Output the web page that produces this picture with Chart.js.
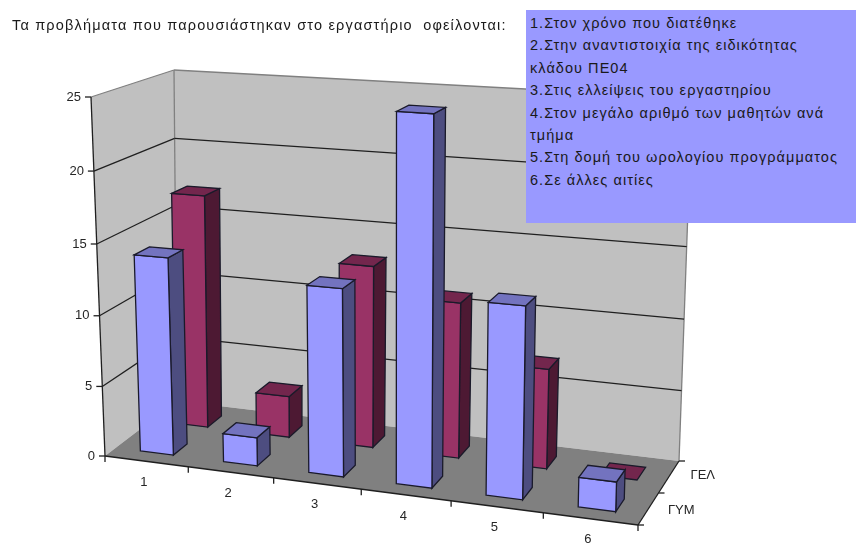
<!doctype html>
<html lang="el">
<head>
  <meta charset="utf-8" />
  <title>Προβλήματα εργαστηρίου</title>
  <style>
    body { margin: 0; background: #fff; }
    #wrap { position: relative; width: 856px; height: 545px; overflow: hidden; font-family: "Liberation Sans", Arial, sans-serif; color: #1a1a1a; }
    #myChart { position: absolute; left: 0; top: 0; }
    #title { position: absolute; left: 12px; top: 17px; font-size: 14.5px; letter-spacing: 1.17px; white-space: pre; }
    #box { position: absolute; left: 526px; top: 10px; width: 330px; height: 213px; background: #9999ff; }
    #box div { position: absolute; left: 4px; font-size: 14.5px; letter-spacing: 1.05px; white-space: pre; }
  </style>
</head>
<body>
<div id="wrap">
  <canvas id="myChart" width="856" height="545"></canvas>
  <div id="title"></div>
  <div id="box"></div>
</div>
<script src="https://cdn.jsdelivr.net/npm/chart.js@4/dist/chart.umd.min.js"></script>
<script>
const categories = ['1', '2', '3', '4', '5', '6'];
const gym = [14, 2, 13, 25, 13, 2];
const gel = [17, 3, 13, 11, 7, 0];
const seriesNames = ['ΓΥΜ', 'ΓΕΛ'];
const valueTicks = [0, 5, 10, 15, 20, 25];
const titleText = 'Τα προβλήματα που παρουσιάστηκαν στο εργαστήριο  οφείλονται:';
const noteLines = [
  '1.Στον χρόνο που διατέθηκε',
  '2.Στην αναντιστοιχία της ειδικότητας',
  'κλάδου ΠΕ04',
  '3.Στις ελλείψεις του εργαστηρίου',
  '4.Στον μεγάλο αριθμό των μαθητών ανά',
  'τμήμα',
  '5.Στη δομή του ωρολογίου προγράμματος',
  '6.Σε άλλες αιτίες'
];

document.getElementById('title').textContent = titleText;
const box = document.getElementById('box');
noteLines.forEach(function (line, i) {
  const d = document.createElement('div');
  d.textContent = line;
  d.style.top = (5 + i * 22.4) + 'px';
  box.appendChild(d);
});

// corners of the 3D plot box on the screen, [front, back] x [bottom, top] x [left, right]
const cube = {
  fbl: [105, 456], fbr: [638, 525], ftl: [91, 97], ftr: [649, 133],
  bbl: [177, 401], bbr: [679, 461], btl: [174, 70], btr: [692, 98]
};
const persp = 1.08;
const perspUp = 1.04;

function mix(a, b, t) { return [a[0] + (b[0] - a[0]) * t, a[1] + (b[1] - a[1]) * t]; }

// u along categories, v up, w into the picture, all 0..1
function project(u, v, w) {
  const uu = u / (persp - (persp - 1) * u);
  const vv = v / (perspUp - (perspUp - 1) * v);
  const front = mix(mix(cube.fbl, cube.fbr, uu), mix(cube.ftl, cube.ftr, uu), vv);
  const back = mix(mix(cube.bbl, cube.bbr, uu), mix(cube.btl, cube.btr, uu), vv);
  return mix(front, back, w);
}

function poly(ctx, pts, fill, stroke) {
  ctx.beginPath();
  pts.forEach(function (p, i) { if (i) ctx.lineTo(p[0], p[1]); else ctx.moveTo(p[0], p[1]); });
  ctx.closePath();
  if (fill) { ctx.fillStyle = fill; ctx.fill(); }
  if (stroke) { ctx.strokeStyle = stroke; ctx.stroke(); }
}

function line(ctx, a, b, color) {
  ctx.beginPath();
  ctx.moveTo(a[0], a[1]);
  ctx.lineTo(b[0], b[1]);
  ctx.strokeStyle = color;
  ctx.stroke();
}

const shades = [
  { front: '#9999ff', side: '#4d4d80', top: '#7373bf' },
  { front: '#993366', side: '#4d1933', top: '#73264d' }
];
const rows = [[0.15, 0.35], [0.65, 0.85]];

const box3d = {
  id: 'box3d',
  afterDatasetsDraw: function (chart) {
    const ctx = chart.ctx;
    const a = chart.chartArea;
    const ys = chart.scales.y;
    const nu = function (px) { return (px - a.left) / (a.right - a.left); };
    const nv = function (px) { return (a.bottom - px) / (a.bottom - a.top); };
    const wall = '#c0c0c0', edge = '#808080', dark = '#1f1f1f';

    ctx.save();
    ctx.lineWidth = 1.3;

    // walls and floor
    poly(ctx, [project(0, 0, 0), project(0, 1, 0), project(0, 1, 1), project(0, 0, 1)], wall);
    poly(ctx, [project(0, 0, 1), project(0, 1, 1), project(1, 1, 1), project(1, 0, 1)], wall);
    poly(ctx, [project(0, 0, 0), project(1, 0, 0), project(1, 0, 1), project(0, 0, 1)], edge);
    line(ctx, project(0, 1, 0), project(0, 1, 1), edge);
    line(ctx, project(0, 1, 1), project(1, 1, 1), edge);
    line(ctx, project(0, 1, 1), project(0, 0, 1), edge);
    line(ctx, project(1, 1, 1), project(1, 0, 1), edge);

    // gridlines and value axis
    ctx.font = '13px "Liberation Sans", Arial, sans-serif';
    ctx.fillStyle = '#262626';
    ys.ticks.forEach(function (t) {
      const v = nv(ys.getPixelForValue(t.value));
      if (t.value > 0 && t.value < ys.max) {
        line(ctx, project(0, v, 0), project(0, v, 1), dark);
        line(ctx, project(0, v, 1), project(1, v, 1), dark);
      }
      const p = project(0, v, 0);
      line(ctx, p, [p[0] - 6, p[1]], dark);
      ctx.textAlign = 'right';
      ctx.textBaseline = 'middle';
      ctx.fillStyle = '#262626';
      ctx.fillText(t.label, p[0] - 10, p[1]);
    });
    line(ctx, project(0, 0, 0), project(0, 1, 0), dark);

    // floor edges, ticks and labels
    line(ctx, project(0, 0, 0), project(1, 0, 0), dark);
    line(ctx, project(1, 0, 0), project(1, 0, 1), dark);
    const n = categories.length;
    ctx.textAlign = 'center';
    for (let i = 0; i <= n; i++) {
      const p = project(i / n, 0, 0);
      line(ctx, p, [p[0], p[1] + 6], dark);
    }
    categories.forEach(function (c, i) {
      const p = project((i + 0.5) / n, 0, 0);
      ctx.fillStyle = '#262626';
      ctx.fillText(c, p[0] - 2.5, p[1] + 21);
    });
    ctx.font = '13px "Liberation Sans", Arial, sans-serif';
    seriesNames.forEach(function (s, i) {
      const p = project(1, 0, (i + 0.5) / seriesNames.length);
      ctx.fillStyle = '#262626';
      ctx.fillText(s, p[0] + 33 + i, p[1] + 1 - i * 3);
    });
    [0, 0.5, 1].forEach(function (w) {
      const p = project(1, 0, w);
      line(ctx, p, [p[0] + 6, p[1]], dark);
    });

    // bars, back row first
    [1, 0].forEach(function (s) {
      const w0 = rows[s][0], w1 = rows[s][1];
      const col = shades[s];
      chart.getDatasetMeta(s).data.forEach(function (bar) {
        const u0 = nu(bar.x - bar.width / 2), u1 = nu(bar.x + bar.width / 2);
        const v1 = nv(bar.y), v0 = nv(bar.base);
        if (v1 > v0) {
          poly(ctx, [project(u1, v0, w0), project(u1, v1, w0), project(u1, v1, w1), project(u1, v0, w1)], col.side, '#1a1a2a');
          poly(ctx, [project(u0, v0, w0), project(u1, v0, w0), project(u1, v1, w0), project(u0, v1, w0)], col.front, '#1a1a2a');
        }
        poly(ctx, [project(u0, v1, w0), project(u1, v1, w0), project(u1, v1, w1), project(u0, v1, w1)], col.top, '#1a1a2a');
      });
    });
    ctx.restore();
  }
};

new Chart(document.getElementById('myChart'), {
  type: 'bar',
  data: {
    labels: categories,
    datasets: [
      { label: seriesNames[0], data: gym, backgroundColor: 'rgba(0,0,0,0)', grouped: false, barPercentage: 0.4, categoryPercentage: 1 },
      { label: seriesNames[1], data: gel, backgroundColor: 'rgba(0,0,0,0)', grouped: false, barPercentage: 0.4, categoryPercentage: 1 }
    ]
  },
  options: {
    responsive: false,
    animation: false,
    plugins: { legend: { display: false }, tooltip: { enabled: false } },
    scales: {
      x: { display: false },
      y: {
        display: false,
        min: valueTicks[0],
        max: valueTicks[valueTicks.length - 1],
        afterBuildTicks: function (axis) {
          axis.ticks = valueTicks.map(function (v) { return { value: v, label: String(v) }; });
        }
      }
    }
  },
  plugins: [box3d]
});
</script>
</body>
</html>
